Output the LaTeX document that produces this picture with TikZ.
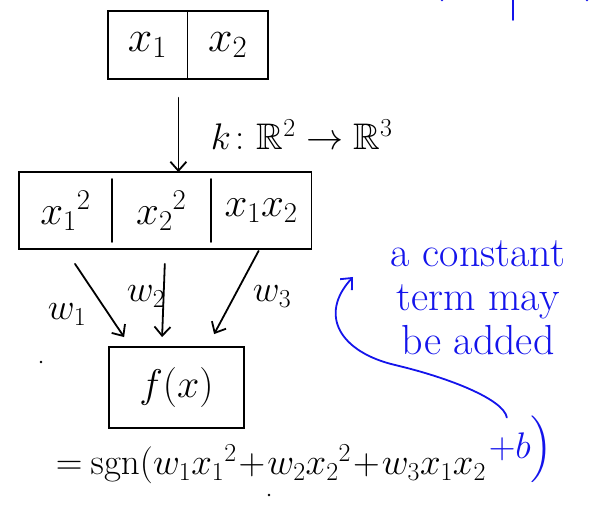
\RequirePackage{fix-cm}
\documentclass[tikz,border=0pt]{standalone}
\usepackage{amsmath,amssymb}
\usepackage{xcolor}
\usetikzlibrary{positioning, calc, arrows.meta}
\definecolor{penblue}{RGB}{20,20,235}

\begin{document}
\begin{tikzpicture}[x=1pt, y=1pt, line width=1.8pt, line cap=round,
    cell/.style={minimum height=66pt, inner sep=0pt, font=\fontsize{44}{48}\selectfont},
    arr/.style={-{Straight Barb[length=9pt,width=16pt]}},
    lbl/.style={font=\fontsize{37}{40}\selectfont, inner sep=0pt},
    note/.style={penblue, font=\fontsize{42}{44}\selectfont, align=center, inner sep=0pt}]

    \useasboundingbox (0,0) rectangle (589,518);

    % Input vector (x1, x2)
    \node[cell, minimum width=78pt] (in1) at (147.5,473) {$x_1$};
    \node[cell, minimum width=79pt, right=0pt of in1] (in2) {$x_2$};
    \draw (in1.north west) rectangle (in2.south east);
    \draw (in1.north east) -- (in1.south east);

    % Mapped features
    \node[cell, font=\fontsize{41}{44}\selectfont, minimum height=75pt, minimum width=91pt] (ft1) at (65.5,307.5) {$x_1{}^2$};
    \node[cell, font=\fontsize{41}{44}\selectfont, minimum height=75pt, minimum width=97pt, right=0pt of ft1] (ft2) {$x_2{}^2$};
    \node[cell, font=\fontsize{41}{44}\selectfont, minimum height=75pt, minimum width=99pt, right=0pt of ft2] (ft3) {$x_1x_2$};
    \draw (ft1.north west) rectangle (ft3.south east);
    \draw ($(ft1.north east)+(0,-7)$) -- ($(ft1.south east)+(0,7)$);
    \draw ($(ft2.north east)+(0,-7)$) -- ($(ft2.south east)+(0,7)$);

    % Output f(x)
    \node[cell, font=\fontsize{40}{44}\selectfont, draw, minimum width=135pt, minimum height=81pt] (out) at (176.5,130.5) {$f(x)$};

    % Map k
    \coordinate (kstart) at ($(in2.south west)+(-9,-19)$);
    \draw[arr] (kstart) -- (kstart |- ft2.north);
    \node[lbl, anchor=base west] (kmap) at (210,368) {$k\colon\mathbb{R}^2\to\mathbb{R}^3$};

    % Weights
    \draw[arr] ($(ft1.south)+(9.5,-15)$) -- ($(out.north west)+(16,9)$);
    \draw[arr] ($(ft2.south)+(3.5,-15)$) -- ($(out.north west)+(54,9)$);
    \draw[arr] ($(ft3.south)+(-2.5,-2)$) -- ($(out.north west)+(106,12)$);
    \node[lbl, anchor=base west] (w1) at (47,198) {$w_1$};
    \node[lbl, anchor=base west] (w2) at (126,216) {$w_2$};
    \node[lbl, anchor=base west] (w3) at (252,216) {$w_3$};

    % Decision function
    \node[lbl, anchor=base west] (eqmain) at (55,43)
        {$\medmuskip=1mu \thickmuskip=4mu =\operatorname{sgn}(w_1x_1{}^2+w_2x_2{}^2+w_3x_1x_2$};
    \node[lbl, penblue, anchor=base west] (eqb) at ($(eqmain.base east)+(1,16)$)
        {${+}b\Big)$};

    % Note on the bias term
    \node[note] (bias) at (478,220) {a constant\\term may\\be added};
    \coordinate (tip) at (353,241);
    \draw[penblue, arr] ($(eqb.north)+(-14,-2)$) .. controls +(-3,18) and (450,140) .. (395,153)
        .. controls (340,166) and (318,203) .. (tip);

    % stray pen marks
    \draw[penblue] (513,518) -- (513,498);
    \fill[penblue] (442,518) circle (1.5);
    \fill[penblue] (587,518) circle (1.5);
    \fill (41,156) circle (1.3);
    \fill (269,23) circle (1.3);
\end{tikzpicture}
\end{document}
